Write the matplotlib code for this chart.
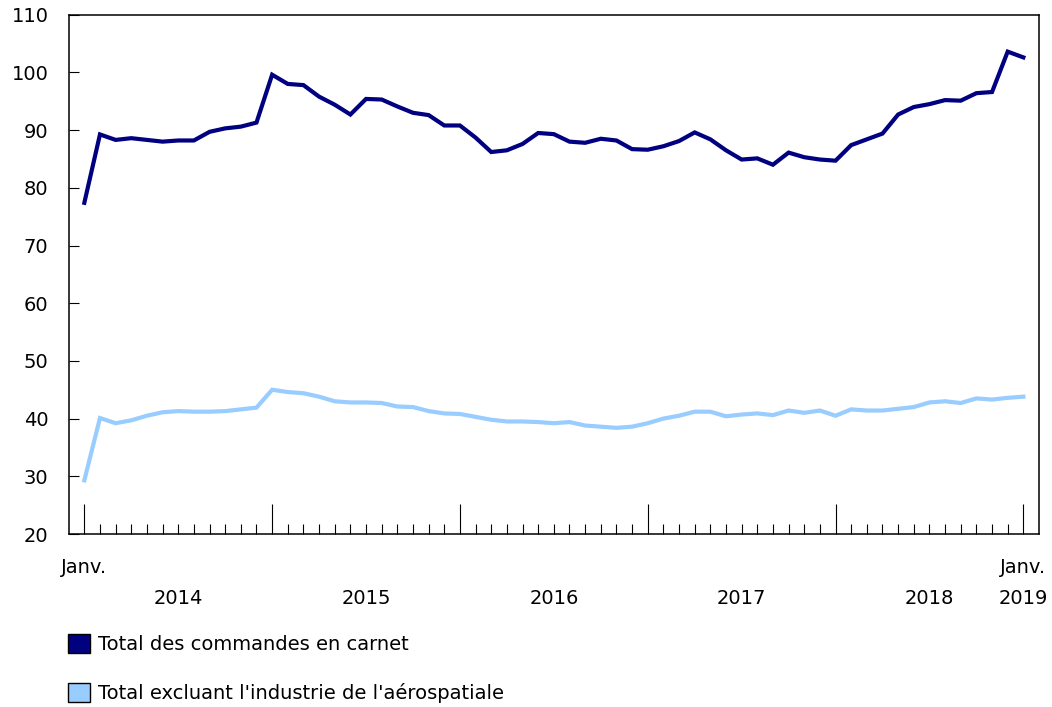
#!/usr/bin/env python3
"""
Carnet de commandes, janvier 2014 a janvier 2019.
Writes: out.png
"""

import numpy as np
import matplotlib
matplotlib.use('Agg')
import matplotlib.pyplot as plt
import matplotlib.patches as mpatches

# --- Data (monthly, Jan 2014 .. Jan 2019) ---
YEARS = ['2014', '2015', '2016', '2017', '2018']
SERIES_LABELS = ['Total des commandes en carnet',
                 "Total excluant l'industrie de l'aérospatiale"]

total_backlog = [77.4, 89.25, 88.3, 88.6, 88.3, 88.0, 88.2, 88.2, 89.7, 90.3, 90.6, 91.3,
                 99.6, 98.0, 97.8, 95.8, 94.4, 92.7, 95.4, 95.3, 94.1, 93.0, 92.6, 90.8,
                 90.8, 88.7, 86.2, 86.5, 87.6, 89.5, 89.3, 88.0, 87.8, 88.5, 88.2, 86.7,
                 86.6, 87.2, 88.1, 89.6, 88.4, 86.5, 84.9, 85.1, 84.0, 86.1, 85.3, 84.9,
                 84.7, 87.4, 88.4, 89.4, 92.7, 94.0, 94.5, 95.2, 95.1, 96.4, 96.6, 103.6,
                 102.6]
excl_aero = [29.3, 40.1, 39.2, 39.7, 40.5, 41.1, 41.3, 41.2, 41.2, 41.3, 41.6, 41.9,
             45.0, 44.6, 44.4, 43.8, 43.0, 42.8, 42.8, 42.7, 42.1, 42.0, 41.3, 40.9,
             40.8, 40.3, 39.8, 39.5, 39.5, 39.4, 39.2, 39.4, 38.8, 38.6, 38.4, 38.6,
             39.2, 40.0, 40.5, 41.2, 41.2, 40.4, 40.7, 40.9, 40.6, 41.4, 41.0, 41.4,
             40.5, 41.6, 41.4, 41.4, 41.7, 42.0, 42.8, 43.0, 42.7, 43.5, 43.3, 43.6,
             43.8]

DARK = '#000080'
LIGHT = '#99ccff'
FS = 14

plt.rcParams['font.family'] = ['DejaVu Sans']
plt.rcParams['font.size'] = FS

months = np.arange(len(total_backlog))

fig = plt.figure(figsize=(10.52, 7.07), dpi=100)
ax = fig.add_axes([69.3 / 1052, 1 - 534 / 707, 970 / 1052, (534 - 14.7) / 707])

ax.plot(months, total_backlog, color=DARK, linewidth=3.0, solid_joinstyle='miter')
ax.plot(months, excl_aero, color=LIGHT, linewidth=3.0, solid_joinstyle='miter')

ax.set_xlim(-0.96, 61.02)
ax.set_ylim(20, 110)
ax.set_yticks(np.arange(20, 111, 10))
ax.tick_params(axis='y', direction='in', length=7.2, width=0.8, pad=15,
               labelsize=FS, colors='black')

# x axis: long ticks at each January, short ticks for the other months
ax.set_xticks(months[::12])
ax.set_xticks([m for m in months if m % 12 != 0], minor=True)
ax.set_xticklabels(['Janv.', '', '', '', '', 'Janv.'])
ax.tick_params(axis='x', which='major', direction='in', length=21.6, width=0.8,
               pad=17, labelsize=FS)
ax.tick_params(axis='x', which='minor', direction='in', length=7.2, width=0.8)

for k, yr in enumerate(YEARS):
    ax.annotate(yr, xy=(12 * k + 6, 0), xycoords=('data', 'axes fraction'),
                xytext=(0, -46.5), textcoords='offset points',
                ha='center', va='center', fontsize=FS)
ax.annotate('2019', xy=(60, 0), xycoords=('data', 'axes fraction'),
            xytext=(0, -46.5), textcoords='offset points',
            ha='center', va='center', fontsize=FS)

for s in ax.spines.values():
    s.set_linewidth(1.1)
    s.set_color('black')

handles = [mpatches.Patch(facecolor=DARK, edgecolor='black', linewidth=1.0),
           mpatches.Patch(facecolor=LIGHT, edgecolor='black', linewidth=1.0)]
fig.legend(handles, SERIES_LABELS, loc='upper left',
           bbox_to_anchor=(60 / 1052, 1 - 626 / 707), frameon=False,
           handlelength=1.15, handleheight=1.15, handletextpad=0.4,
           labelspacing=1.5, fontsize=FS, borderaxespad=0)

fig.savefig('out.png', dpi=100)
